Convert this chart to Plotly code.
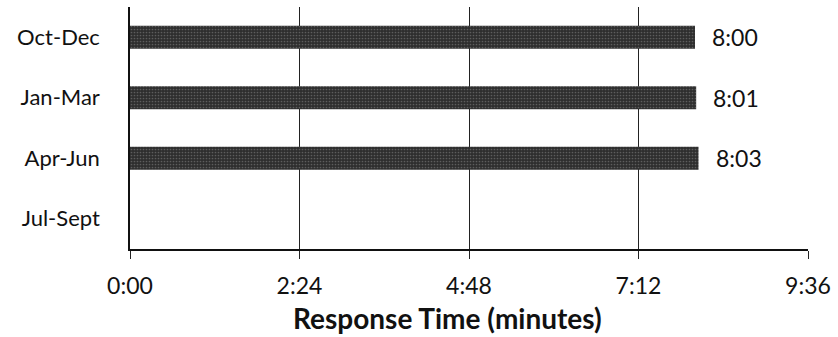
import plotly.graph_objects as go

# Quarterly average response times (M:SS)
quarters = ["Oct-Dec", "Jan-Mar", "Apr-Jun", "Jul-Sept"]
response_times = ["8:00", "8:01", "8:03", None]

tick_minutes = [0, 2.4, 4.8, 7.2, 9.6]
tick_labels = ["0:00", "2:24", "4:48", "7:12", "9:36"]


def to_minutes(s):
    if s is None:
        return None
    m, sec = s.split(":")
    return int(m) + int(sec) / 60.0


values = [to_minutes(t) for t in response_times]

FONT = "Lato"
TEXT = "#111111"

fig = go.Figure()
fig.add_trace(go.Bar(
    y=quarters,
    x=values,
    orientation="h",
    width=0.38,
    marker=dict(
        color="#2e2e2e",
        line=dict(width=0),
        pattern=dict(shape=".", bgcolor="#2e2e2e", fgcolor="#8c8c8c",
                     size=3, solidity=0.25, fillmode="overlay"),
    ),
    hoverinfo="skip",
))

for q, v, label in zip(quarters, values, response_times):
    if v is None:
        continue
    fig.add_annotation(
        x=v, y=q, text=label, showarrow=False,
        xanchor="left", yanchor="middle", xshift=15,
        font=dict(family=FONT, size=23, color=TEXT),
    )

# Axis title, set as a paper-anchored annotation
fig.add_annotation(
    xref="paper", yref="paper", x=0.468, y=-0.285,
    xanchor="center", yanchor="middle", showarrow=False,
    text="<b>Response Time (minutes)</b>",
    font=dict(family=FONT, size=28, color=TEXT),
)

fig.update_xaxes(
    range=[0, 9.6],
    tickvals=tick_minutes,
    ticktext=tick_labels,
    showgrid=True, gridcolor="#222222", gridwidth=1,
    showline=True, linecolor="#111111", linewidth=1.5,
    ticks="outside", ticklen=8, tickcolor="#222222",
    ticklabelstandoff=8,
    tickfont=dict(family=FONT, size=23, color=TEXT),
    zeroline=False,
)
fig.update_yaxes(
    categoryorder="array",
    categoryarray=quarters[::-1],
    showline=True, linecolor="#111111", linewidth=1.5,
    showgrid=False,
    ticks="", ticklabelstandoff=24,
    tickfont=dict(family=FONT, size=22, color=TEXT),
)

fig.update_layout(
    width=838, height=337,
    margin=dict(l=130, r=30, t=7, b=88),
    plot_bgcolor="white", paper_bgcolor="white",
    showlegend=False,
    bargap=0.62,
)

fig.write_html("out.html")
